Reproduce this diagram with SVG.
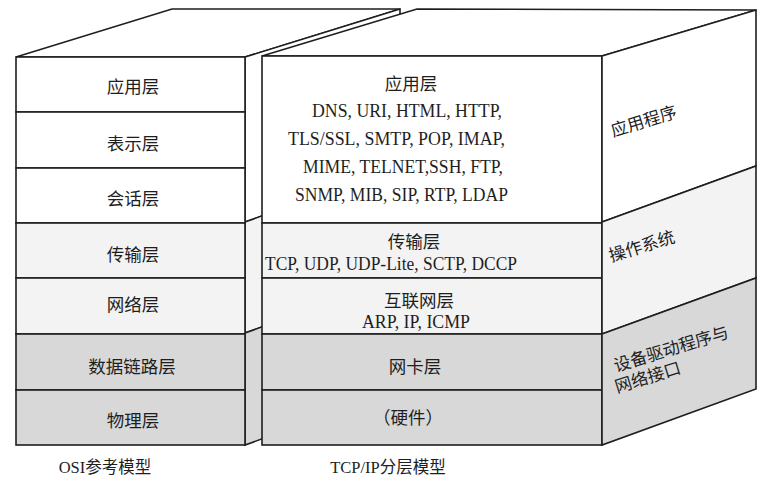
<svg xmlns="http://www.w3.org/2000/svg" width="768" height="477" viewBox="0 0 768 477">
<defs>
<style>
.s{stroke:#1e1e1e;stroke-width:1.6;stroke-linejoin:miter}
.w{fill:#ffffff}
.l{fill:#f3f3f3}
.g{fill:#d8d8d8}
.t{font-family:"Liberation Serif","Noto Sans CJK SC",serif;font-size:17.5px;fill:#1e1e1e;text-anchor:middle}
.e{font-family:"Liberation Serif","Noto Sans CJK SC",serif;font-size:18.5px;fill:#1e1e1e}
.r{font-family:"Noto Sans CJK SC",sans-serif;font-size:17px;fill:#1e1e1e}
</style>
</defs>
<rect width="768" height="477" fill="#ffffff"/>

<!-- OSI block -->
<g id="osi-model">
  <polygon class="s w" points="16,57 172,9 400,9 245,57"/>
  <g id="osi-side">
    <polygon class="s w" points="245,57 400,9 400,166 245,222"/>
    <polygon class="s l" points="245,222 400,166 400,277 245,333"/>
    <polygon class="s g" points="245,333 400,277 400,389 245,445"/>
  </g>
  <g id="osi-app"><rect class="s w" x="16" y="57" width="229" height="55"/><text class="t" x="133" y="92.5">应用层</text></g>
  <g id="osi-pres"><rect class="s w" x="16" y="112" width="229" height="56"/><text class="t" x="133" y="149.5">表示层</text></g>
  <g id="osi-sess"><rect class="s w" x="16" y="168" width="229" height="55"/><text class="t" x="133" y="204.5">会话层</text></g>
  <g id="osi-trans"><rect class="s l" x="16" y="223" width="229" height="55"/><text class="t" x="133" y="260.5">传输层</text></g>
  <g id="osi-net"><rect class="s l" x="16" y="278" width="229" height="56"/><text class="t" x="133" y="311">网络层</text></g>
  <g id="osi-link"><rect class="s g" x="16" y="334" width="229" height="56"/><text class="t" x="132" y="372.5">数据链路层</text></g>
  <g id="osi-phys"><rect class="s g" x="16" y="390" width="229" height="55"/><text class="t" x="133" y="426.5">物理层</text></g>
</g>

<!-- TCP/IP block -->
<g id="tcpip-model">
  <polygon class="s w" points="262,56 417,9 756,10 602,56"/>
  <g id="tcpip-app">
    <rect class="s w" x="262" y="56" width="340" height="167"/>
    <text class="t" x="411" y="90">应用层</text>
    <text class="e" x="312" y="117" textLength="190" lengthAdjust="spacingAndGlyphs">DNS, URI, HTML, HTTP,</text>
    <text class="e" x="288" y="145" textLength="217" lengthAdjust="spacingAndGlyphs">TLS/SSL, SMTP, POP, IMAP,</text>
    <text class="e" x="303" y="173" textLength="200" lengthAdjust="spacingAndGlyphs">MIME, TELNET,SSH, FTP,</text>
    <text class="e" x="295" y="201" textLength="213" lengthAdjust="spacingAndGlyphs">SNMP, MIB, SIP, RTP, LDAP</text>
  </g>
  <g id="tcpip-trans">
    <rect class="s l" x="262" y="223" width="340" height="55"/>
    <text class="t" x="414" y="248">传输层</text>
    <text class="e" x="265" y="270" textLength="252" lengthAdjust="spacingAndGlyphs">TCP, UDP, UDP-Lite, SCTP, DCCP</text>
  </g>
  <g id="tcpip-inet">
    <rect class="s l" x="262" y="278" width="340" height="56"/>
    <text class="t" x="419" y="306.5">互联网层</text>
    <text class="e" x="362" y="328" textLength="108" lengthAdjust="spacingAndGlyphs">ARP, IP, ICMP</text>
  </g>
  <g id="tcpip-nic">
    <rect class="s g" x="262" y="334" width="340" height="56"/>
    <text class="t" x="415" y="372.5">网卡层</text>
  </g>
  <g id="tcpip-hw">
    <rect class="s g" x="262" y="390" width="340" height="55"/>
    <text class="t" x="408" y="423.5">（硬件）</text>
  </g>
  <g id="side-apps">
    <polygon class="s w" points="602,56 756,10 756,166 602,222"/>
    <text class="r" transform="translate(613,137) rotate(-17)">应用程序</text>
  </g>
  <g id="side-os">
    <polygon class="s l" points="602,222 756,166 756,278 602,334"/>
    <text class="r" transform="translate(611,262) rotate(-17)">操作系统</text>
  </g>
  <g id="side-drivers">
    <polygon class="s g" points="602,334 756,278 756,389 602,445"/>
    <text class="r" transform="translate(616,372) rotate(-17)">设备驱动程序与</text>
    <text class="r" transform="translate(617,393) rotate(-17)">网络接口</text>
  </g>
</g>

<g id="captions">
  <text class="t" x="105" y="473" style="font-size:16.5px">OSI参考模型</text>
  <text class="t" x="388" y="473" style="font-size:16.5px">TCP/IP分层模型</text>
</g>
</svg>
